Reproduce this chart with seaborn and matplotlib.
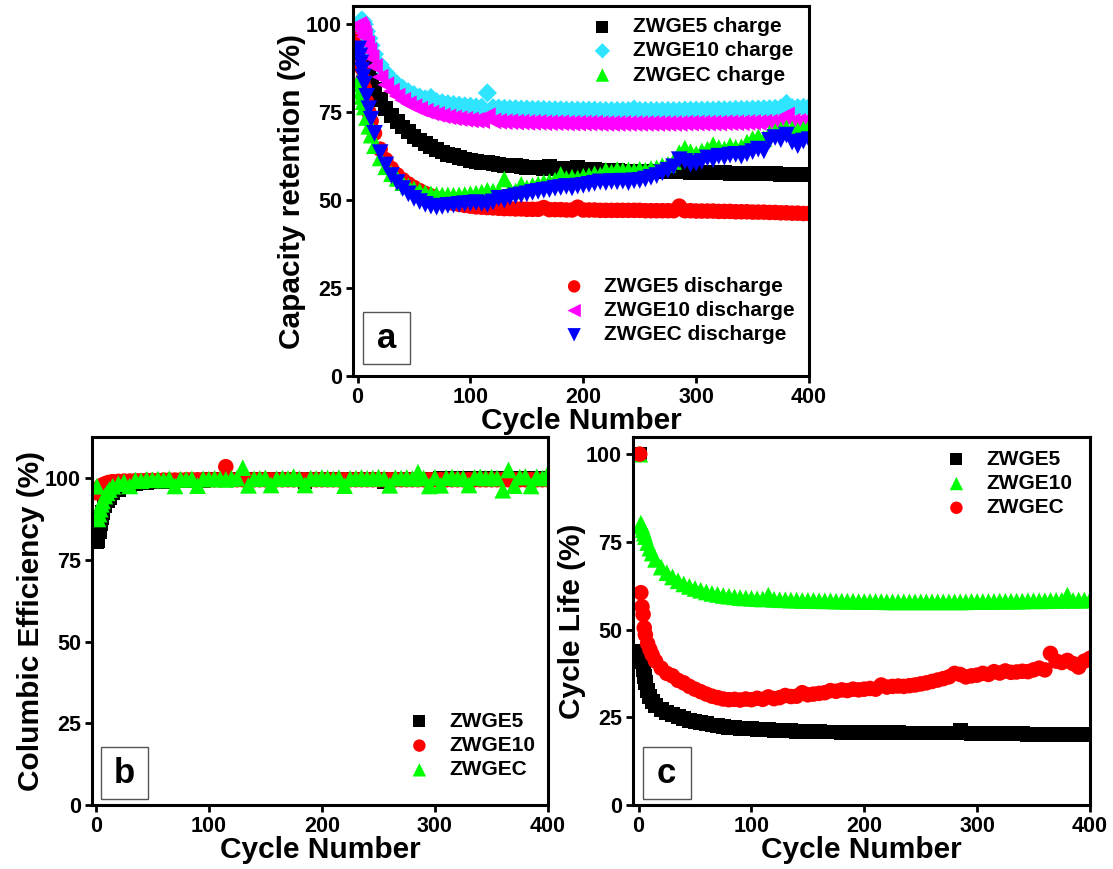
import matplotlib
matplotlib.use("Agg")
import matplotlib.pyplot as plt
from matplotlib.patches import Rectangle
import pandas as pd
import seaborn as sns

# Cycle numbers at which the cells were sampled
CYCLES = [1, 2, 3, 4, 5, 6, 8, 10, 12, 15,
          20, 25, 30, 35, 40, 45, 50, 55, 60, 65, 70, 75, 80, 85, 90, 95, 100,
          105, 110, 115, 120, 125, 130, 135, 140, 145, 150, 155, 160, 165, 170, 175, 180, 185, 190, 195, 200,
          205, 210, 215, 220, 225, 230, 235, 240, 245, 250, 255, 260, 265, 270, 275, 280, 285, 290, 295, 300,
          305, 310, 315, 320, 325, 330, 335, 340, 345, 350, 355, 360, 365, 370, 375, 380, 385, 390, 395, 400]

# (a) capacity retention, %
ZWGE5_CHARGE = [100, 97.5, 95.5, 93.5, 92, 90.5, 88, 86, 84, 81.5,
                78.5, 76, 74, 72.3, 70.8, 69.4, 68.2, 67.1, 66.1, 65.2, 64.4, 63.7, 63.1, 62.6, 62.1, 61.7, 61.3,
                61.0, 60.7, 60.8, 60.3, 60.1, 59.9, 59.8, 59.9, 59.5, 59.4, 59.3, 59.2, 59.1, 59.6, 59.0, 58.9, 58.9, 58.8, 59.4, 58.7,
                58.6, 58.6, 58.5, 58.5, 58.4, 58.4, 58.3, 58.3, 58.3, 58.2, 58.2, 58.2, 58.1, 58.1, 58.0, 58.0, 58.4, 58.0, 57.9, 57.9,
                57.9, 57.9, 57.8, 57.8, 57.8, 57.7, 57.7, 57.7, 57.6, 57.6, 57.6, 57.5, 57.5, 57.5, 57.4, 57.4, 57.4, 57.3, 57.3, 57.2]
ZWGE10_CHARGE = [100, 100.5, 101, 101.2, 100.8, 100, 98, 96, 94, 91.5,
                 88.5, 86.3, 84.5, 83.0, 81.8, 80.8, 80.0, 79.3, 78.8, 79.2, 78.0, 77.7, 77.4, 77.2, 77.0, 76.8, 76.7,
                 76.5, 76.4, 80.5, 76.3, 76.2, 76.1, 76.0, 76.0, 75.9, 75.9, 75.8, 75.8, 75.8, 75.7, 75.7, 75.7, 75.6, 75.6, 75.6, 75.6,
                 75.6, 75.6, 75.5, 75.5, 75.5, 75.5, 75.5, 75.5, 75.9, 75.5, 75.5, 75.5, 75.5, 75.5, 75.5, 75.5, 75.5, 75.6, 75.6, 75.6,
                 75.6, 75.6, 75.6, 75.7, 75.7, 75.7, 75.8, 75.8, 75.8, 75.9, 75.9, 76.0, 76.0, 76.1, 76.2, 77.5, 76.3, 76.3, 76.4, 76.4]
ZWGEC_CHARGE = [84, 83, 81, 79.5, 78, 76.5, 73.5, 71, 68.5, 65.5,
                62.0, 59.5, 57.5, 56.2, 55.0, 54.0, 53.2, 52.6, 52.1, 51.8, 51.6, 51.5, 51.5, 51.4, 51.5, 51.6, 51.8,
                52.0, 52.3, 52.8, 52.6, 52.4, 56.0, 53.0, 52.6, 54.5, 53.5, 54.2, 54.6, 55.0, 55.3, 55.7, 57.3, 56.2, 56.5, 56.3, 56.8,
                57.0, 57.5, 57.2, 58.5, 58.0, 58.7, 58.4, 58.6, 58.3, 58.8, 58.5, 59.0, 59.2, 59.8, 60.2, 61.0, 63.5, 64.8, 63.8, 63.2,
                64.0, 64.5, 65.8, 65.0, 64.6, 65.5, 65.0, 65.2, 66.5, 67.5, 68.0, 67.5, 69.0, 69.5, 70.0, 70.5, 70.2, 69.8, 70.2, 70.8]
ZWGE5_DISCHARGE = [99, 95, 91, 87.5, 84.5, 82, 78, 75, 72.5, 69,
                   64.5, 61.5, 59.0, 57.2, 55.8, 54.6, 53.6, 52.7, 51.9, 51.2, 50.5, 50.0, 49.5, 49.1, 48.8, 48.5, 48.3,
                   48.1, 48.0, 47.9, 47.8, 47.7, 47.6, 47.6, 47.5, 47.5, 47.4, 47.4, 47.4, 47.9, 47.3, 47.3, 47.3, 47.2, 47.2, 48.0, 47.2,
                   47.2, 47.2, 47.1, 47.1, 47.1, 47.1, 47.1, 47.1, 47.1, 47.1, 47.0, 47.0, 47.0, 47.0, 47.0, 47.0, 48.3, 47.0, 47.0, 46.9,
                   46.9, 46.9, 46.9, 46.8, 46.8, 46.8, 46.7, 46.7, 46.7, 46.6, 46.6, 46.6, 46.5, 46.5, 46.4, 46.4, 46.3, 46.3, 46.2, 46.2]
ZWGE10_DISCHARGE = [100, 99.5, 99, 98.5, 97.5, 96.5, 94.5, 92.5, 90.5, 88,
                    85.0, 82.8, 81.0, 79.6, 78.4, 77.4, 76.6, 75.9, 75.3, 74.8, 74.4, 74.0, 73.7, 73.4, 73.2, 73.0, 72.8,
                    72.7, 72.6, 74.0, 72.5, 72.4, 72.3, 72.3, 72.2, 72.2, 72.1, 72.1, 72.1, 72.0, 72.0, 72.0, 72.0, 71.9, 71.9, 71.9, 71.9,
                    71.9, 71.9, 71.8, 71.8, 71.8, 71.8, 71.8, 71.8, 71.8, 71.8, 71.8, 71.8, 71.8, 71.8, 71.8, 71.8, 71.8, 71.9, 71.9, 71.9,
                    71.9, 71.9, 71.9, 71.9, 72.0, 72.0, 72.0, 72.0, 72.1, 72.1, 72.1, 72.2, 72.2, 72.3, 72.3, 74.2, 72.4, 72.4, 72.5, 72.5]
ZWGEC_DISCHARGE = [93, 91, 89, 87, 85, 83, 79.5, 76, 73, 69,
                   63.5, 60.0, 57.0, 55.0, 53.3, 51.8, 50.5, 49.6, 48.8, 48.3, 48.0, 48.2, 48.5, 48.6, 48.8, 49.0, 49.1,
                   49.3, 49.0, 48.8, 49.5, 50.5, 50.0, 50.8, 51.2, 51.5, 51.8, 52.2, 52.5, 52.8, 53.0, 53.4, 53.6, 53.9, 53.5, 54.0, 54.2,
                   54.5, 54.8, 55.2, 55.0, 55.3, 55.2, 55.4, 55.0, 55.5, 55.6, 56.0, 56.5, 57.0, 57.8, 58.5, 59.5, 61.5, 61.0, 60.2, 60.5,
                   61.0, 62.0, 61.5, 62.5, 62.2, 62.8, 63.0, 62.5, 63.2, 63.8, 64.5, 64.0, 67.0, 67.8, 67.2, 68.5, 66.5, 65.5, 66.8, 67.2]

# (b) columbic efficiency, %
CE_ZWGE5 = [80.5, 81, 83.5, 86, 88, 89.5, 91.5, 93, 94.2, 95.5,
            96.6, 97.3, 97.8, 98.2, 98.5, 98.7, 98.9, 99.0, 99.1, 99.2, 99.2, 99.3, 99.3, 99.4, 99.4, 99.4, 99.5,
            99.5, 99.5, 99.6, 99.5, 99.6, 99.6, 99.6, 99.6, 99.6, 99.7, 99.6, 99.7, 99.7, 99.7, 99.7, 99.7, 98.8, 99.7, 99.7, 99.7,
            99.7, 99.7, 99.7, 99.7, 99.7, 99.7, 99.7, 99.7, 99.7, 99.7, 98.9, 99.7, 99.7, 99.7, 99.7, 99.7, 99.7, 99.7, 99.7, 99.7,
            99.8, 99.8, 99.8, 99.8, 99.8, 99.8, 99.8, 99.8, 99.8, 99.8, 99.8, 99.8, 99.8, 99.8, 99.8, 99.8, 99.8, 99.8, 99.8, 99.8]
CE_ZWGE10 = [95.5, 96, 96.8, 97.3, 97.6, 97.9, 98.2, 98.5, 98.7, 98.9,
             99.0, 99.1, 99.1, 99.2, 99.2, 99.3, 99.3, 99.3, 99.4, 99.4, 99.4, 99.4, 99.5, 99.5, 99.5, 99.5, 99.5,
             99.5, 99.5, 103.5, 99.5, 99.5, 99.5, 99.5, 99.5, 99.5, 99.5, 99.5, 99.5, 99.5, 99.5, 99.5, 99.5, 99.5, 99.5, 99.5, 99.5,
             99.5, 99.5, 99.5, 99.5, 99.5, 99.5, 99.5, 99.5, 99.5, 99.5, 99.5, 99.5, 99.5, 99.5, 99.5, 99.5, 99.5, 99.5, 99.5, 99.5,
             99.5, 99.5, 99.5, 99.5, 99.5, 99.5, 99.5, 99.5, 99.5, 99.5, 99.5, 99.5, 99.5, 99.5, 99.5, 99.5, 99.5, 99.5, 99.5, 99.5]
CE_ZWGEC = [97.5, 87.5, 89, 90.5, 92, 93, 94.5, 95.5, 96.5, 97.5,
            98.3, 98.8, 97.6, 99.4, 99.2, 99.6, 99.5, 99.7, 99.4, 99.8, 97.6, 99.7, 99.6, 99.8, 97.7, 99.8, 99.7,
            99.9, 99.8, 99.6, 99.9, 100.0, 103.2, 97.8, 99.8, 99.9, 100.1, 97.9, 99.8, 100.0, 99.9, 100.5, 99.8, 97.9, 100.0, 99.9, 100.2,
            100.0, 99.8, 100.1, 97.7, 99.9, 100.0, 100.2, 99.9, 100.0, 100.3, 99.9, 97.8, 100.1, 100.0, 100.2, 99.9, 101.8, 100.0, 97.6, 100.2,
            97.8, 100.1, 100.3, 99.9, 100.0, 97.9, 100.2, 100.4, 100.0, 100.3, 100.0, 96.3, 102.5, 97.7, 100.3, 100.5, 97.6, 100.4, 100.0, 101.5]

# (c) cycle life, %
CL_ZWGE5 = [100, 43.8, 41, 38.5, 36.5, 35, 32.5, 30.8, 29.6, 28.4,
            27.3, 26.4, 25.7, 25.1, 24.6, 24.2, 23.8, 23.4, 23.1, 22.8, 22.6, 22.4, 22.2, 22.0, 21.9, 21.8, 21.7,
            21.6, 21.5, 21.4, 21.3, 21.2, 21.2, 21.1, 21.0, 21.0, 20.9, 20.9, 20.9, 20.8, 20.8, 20.8, 20.7, 20.7, 20.7, 20.7, 20.6,
            20.6, 20.6, 20.6, 20.6, 20.6, 20.6, 20.5, 20.5, 20.5, 20.5, 20.5, 20.5, 20.5, 20.5, 20.5, 20.5, 21.2, 20.5, 20.4, 20.4,
            20.4, 20.4, 20.4, 20.3, 20.3, 20.3, 20.3, 20.3, 20.2, 20.2, 20.2, 20.2, 20.1, 20.1, 20.1, 20.1, 20.0, 20.0, 20.0, 20.0]
CL_ZWGE10 = [100, 80.3, 79.5, 78.5, 77.5, 76.5, 74.8, 73.2, 71.8, 70.0,
             67.8, 66.2, 65.0, 63.9, 63.0, 62.3, 61.7, 61.2, 60.7, 60.3, 60.0, 59.7, 59.5, 59.3, 59.1, 59.0, 58.9,
             58.8, 58.7, 59.8, 58.6, 58.5, 58.5, 58.4, 58.4, 58.3, 58.3, 58.3, 58.2, 58.2, 58.2, 58.1, 58.1, 58.1, 58.1, 58.0, 58.0,
             58.0, 58.0, 58.0, 57.9, 57.9, 57.9, 57.9, 57.9, 57.9, 57.9, 57.9, 57.9, 57.9, 57.9, 57.9, 57.9, 57.9, 57.9, 58.0, 58.0,
             58.0, 58.0, 58.0, 58.1, 58.1, 58.1, 58.1, 58.1, 58.2, 58.2, 58.2, 58.2, 58.3, 58.3, 58.3, 59.8, 58.3, 58.4, 58.4, 58.4]
CL_ZWGEC = [100, 60.5, 56.5, 54.3, 50.5, 48.5, 46, 44.3, 42.8, 41,
            39.0, 37.5, 36.8, 35.5, 34.8, 33.8, 33.0, 32.3, 31.6, 31.0, 30.6, 30.2, 30.0, 30.1, 29.9, 30.2, 30.0,
            30.4, 30.1, 30.8, 30.3, 30.6, 31.2, 30.9, 31.0, 32.0, 31.4, 31.6, 31.8, 32.0, 32.6, 32.4, 32.8, 32.6, 33.0, 32.8, 33.0,
            33.2, 33.0, 34.2, 33.6, 33.8, 33.9, 33.8, 34.0, 34.2, 34.5, 34.8, 35.2, 35.6, 36.0, 36.5, 37.5, 37.2, 36.5, 36.8, 37.0,
            37.5, 37.2, 38.0, 37.6, 38.2, 37.8, 37.9, 38.1, 38.0, 38.5, 39.0, 38.5, 43.2, 41.0, 40.6, 41.2, 40.3, 39.3, 41.0, 41.8]

BLACK, RED, GREEN, BLUE = "#000000", "#ff0000", "#00ff00", "#0000ff"
CYAN, MAGENTA = "#2ee4ff", "#ff00ff"
TICK_X = [0, 100, 200, 300, 400]
TICK_Y = [0, 25, 50, 75, 100]

sns.set_theme(style="ticks")
plt.rcParams["font.family"] = ["Liberation Sans", "DejaVu Sans"]
plt.rcParams["font.weight"] = "bold"
plt.rcParams["axes.labelweight"] = "bold"
plt.rcParams["axes.edgecolor"] = "black"
plt.rcParams["xtick.color"] = "black"
plt.rcParams["ytick.color"] = "black"
plt.rcParams["text.color"] = "black"
plt.rcParams["axes.labelcolor"] = "black"

fig = plt.figure(figsize=(11.13, 8.69), dpi=100)
ax_a = fig.add_axes([0.3172, 0.5673, 0.4097, 0.4258])
ax_b = fig.add_axes([0.0827, 0.0737, 0.4097, 0.4235])
ax_c = fig.add_axes([0.5687, 0.0737, 0.4106, 0.4235])

# marker areas (pt^2) per marker shape; the dense cycling data forms wide bands
SIZE = {"s": 115, "o": 125, "D": 95, "<": 145, "^": 145, "v": 145}
LEGEND_SCALE = 0.8


def scatter(ax, values, marker, color, label):
    df = pd.DataFrame({"cycle": CYCLES, "value": values})
    sns.scatterplot(data=df, x="cycle", y="value", ax=ax, marker=marker,
                    color=color, s=SIZE[marker], linewidth=0, edgecolor="none",
                    label=label, legend=False)


def style(ax, xlim, ylim, ylabel):
    ax.set_xlim(*xlim)
    ax.set_ylim(*ylim)
    ax.set_xticks(TICK_X)
    ax.set_yticks(TICK_Y)
    ax.tick_params(direction="out", length=5, width=2, labelsize=15.5, pad=3,
                   top=False, right=False)
    for sp in ax.spines.values():
        sp.set_visible(True)
        sp.set_linewidth(2.2)
        sp.set_color("black")
        sp.set_zorder(10)
    ax.set_xlabel("Cycle Number", fontsize=21.5, labelpad=-1)
    ax.set_ylabel(ylabel, fontsize=21.5, labelpad=0)


def tag(ax, letter, x0, y0, w, h):
    ax.add_patch(Rectangle((x0, y0), w, h, transform=ax.transAxes, fill=False,
                           ec="#555555", lw=1.0, zorder=6))
    ax.text(x0 + w / 2, y0 + h / 2, letter, transform=ax.transAxes,
            ha="center", va="center", fontsize=25, fontweight="bold", zorder=7)


def legend(ax, handles, anchor):
    return ax.legend(handles=handles, loc="upper left", bbox_to_anchor=anchor,
                     frameon=False, fontsize=15, handlelength=1.0,
                     handletextpad=0.95, labelspacing=0.25, borderpad=0,
                     borderaxespad=0, markerscale=LEGEND_SCALE)


# ---- (a) capacity retention ----
scatter(ax_a, ZWGE5_CHARGE, "s", BLACK, "ZWGE5 charge")
scatter(ax_a, ZWGE5_DISCHARGE, "o", RED, "ZWGE5 discharge")
scatter(ax_a, ZWGE10_CHARGE, "D", CYAN, "ZWGE10 charge")
scatter(ax_a, ZWGE10_DISCHARGE, "<", MAGENTA, "ZWGE10 discharge")
scatter(ax_a, ZWGEC_CHARGE, "^", GREEN, "ZWGEC charge")
scatter(ax_a, ZWGEC_DISCHARGE, "v", BLUE, "ZWGEC discharge")
style(ax_a, (-4, 400), (0, 105.2), "Capacity retention (%)")
h = {c.get_label(): c for c in ax_a.collections}
leg1 = legend(ax_a, [h["ZWGE5 charge"], h["ZWGE10 charge"], h["ZWGEC charge"]], (0.524, 0.970))
ax_a.add_artist(leg1)
legend(ax_a, [h["ZWGE5 discharge"], h["ZWGE10 discharge"], h["ZWGEC discharge"]], (0.462, 0.268))
tag(ax_a, "a", 0.022, 0.032, 0.103, 0.141)

# ---- (b) columbic efficiency ----
scatter(ax_b, CE_ZWGE5, "s", BLACK, "ZWGE5")
scatter(ax_b, CE_ZWGE10, "o", RED, "ZWGE10")
scatter(ax_b, CE_ZWGEC, "^", GREEN, "ZWGEC")
style(ax_b, (-3.3, 400), (0, 112.6), "Columbic Efficiency (%)")
legend(ax_b, list(ax_b.collections), (0.695, 0.253))
tag(ax_b, "b", 0.019, 0.016, 0.103, 0.141)

# ---- (c) cycle life ----
scatter(ax_c, CL_ZWGE5, "s", BLACK, "ZWGE5")
scatter(ax_c, CL_ZWGE10, "^", GREEN, "ZWGE10")
scatter(ax_c, CL_ZWGEC, "o", RED, "ZWGEC")
style(ax_c, (-5, 400), (0, 104.9), "Cycle Life (%)")
legend(ax_c, list(ax_c.collections), (0.685, 0.965))
tag(ax_c, "c", 0.021, 0.016, 0.105, 0.141)

fig.savefig("out.png", dpi=100)
